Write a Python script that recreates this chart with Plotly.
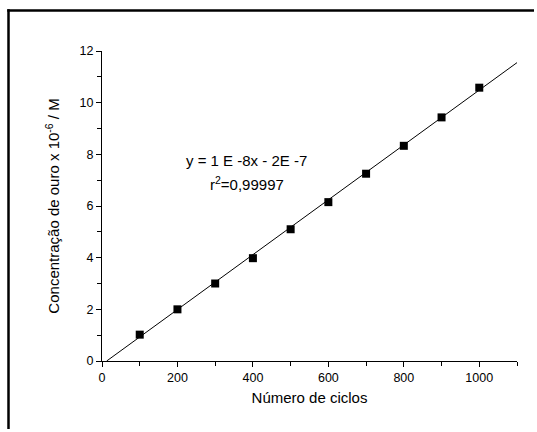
import plotly.graph_objects as go

cycles = [100, 200, 300, 400, 500, 600, 700, 800, 900, 1000]
conc = [1.02, 2.0, 3.0, 3.98, 5.1, 6.15, 7.25, 8.33, 9.43, 10.58]
fit_x = [12.4, 1100]
fit_y = [0.0, 11.55]
eq_lines = ["y = 1 E -8x - 2E -7", "r<sup>2</sup>=0,99997"]
eq_x = [383, 383]
eq_y = [7.78, 6.89]

FONT = "Arial, 'Liberation Sans', sans-serif"

fig = go.Figure()
fig.add_trace(go.Scatter(x=fit_x, y=fit_y, mode="lines",
                         line=dict(color="black", width=1), showlegend=False,
                         cliponaxis=False))
fig.add_trace(go.Scatter(x=cycles, y=conc, mode="markers",
                         marker=dict(symbol="square", size=8, color="black"),
                         showlegend=False, cliponaxis=False))

for t, ex, ey in zip(eq_lines, eq_x, eq_y):
    fig.add_annotation(x=ex, y=ey, xref="x", yref="y", text=t,
                       showarrow=False, align="center",
                       font=dict(family=FONT, size=15, color="black"))

# outer frame: top and left edges
fx0 = (8.5 - 102) / 415
fy1 = (361 - 10.5) / 310
fig.add_shape(type="line", xref="paper", yref="paper",
              x0=fx0 - 0.003, x1=(534 - 102) / 415, y0=fy1, y1=fy1,
              line=dict(color="black", width=2.5))
fig.add_shape(type="line", xref="paper", yref="paper",
              x0=fx0, x1=fx0, y0=fy1 + 0.004, y1=(361 - 429) / 310,
              line=dict(color="black", width=2.5))

fig.update_layout(
    width=537, height=432,
    margin=dict(l=102, r=20, t=51, b=71),
    paper_bgcolor="white", plot_bgcolor="white",
    font=dict(family=FONT, color="black"),
    xaxis=dict(range=[0, 1100], dtick=200, tick0=0, showgrid=False, zeroline=False,
               showline=True, linecolor="black", linewidth=1,
               ticks="outside", ticklen=5, tickwidth=1, tickcolor="black",
               minor=dict(dtick=100, ticks="outside", ticklen=4, tickwidth=1, tickcolor="black"),
               tickfont=dict(size=12.5),
               title=dict(text="Número de ciclos", font=dict(size=15), standoff=8)),
    yaxis=dict(range=[0, 12], dtick=2, tick0=0, showgrid=False, zeroline=False,
               showline=True, linecolor="black", linewidth=1,
               ticks="outside", ticklen=5, tickwidth=1, tickcolor="black",
               minor=dict(dtick=1, ticks="outside", ticklen=4, tickwidth=1, tickcolor="black"),
               tickfont=dict(size=12.5),
               title=dict(text="Concentração de ouro x 10<sup>-6</sup> / M", font=dict(size=15), standoff=16)),
)

fig.write_html("out.html")
